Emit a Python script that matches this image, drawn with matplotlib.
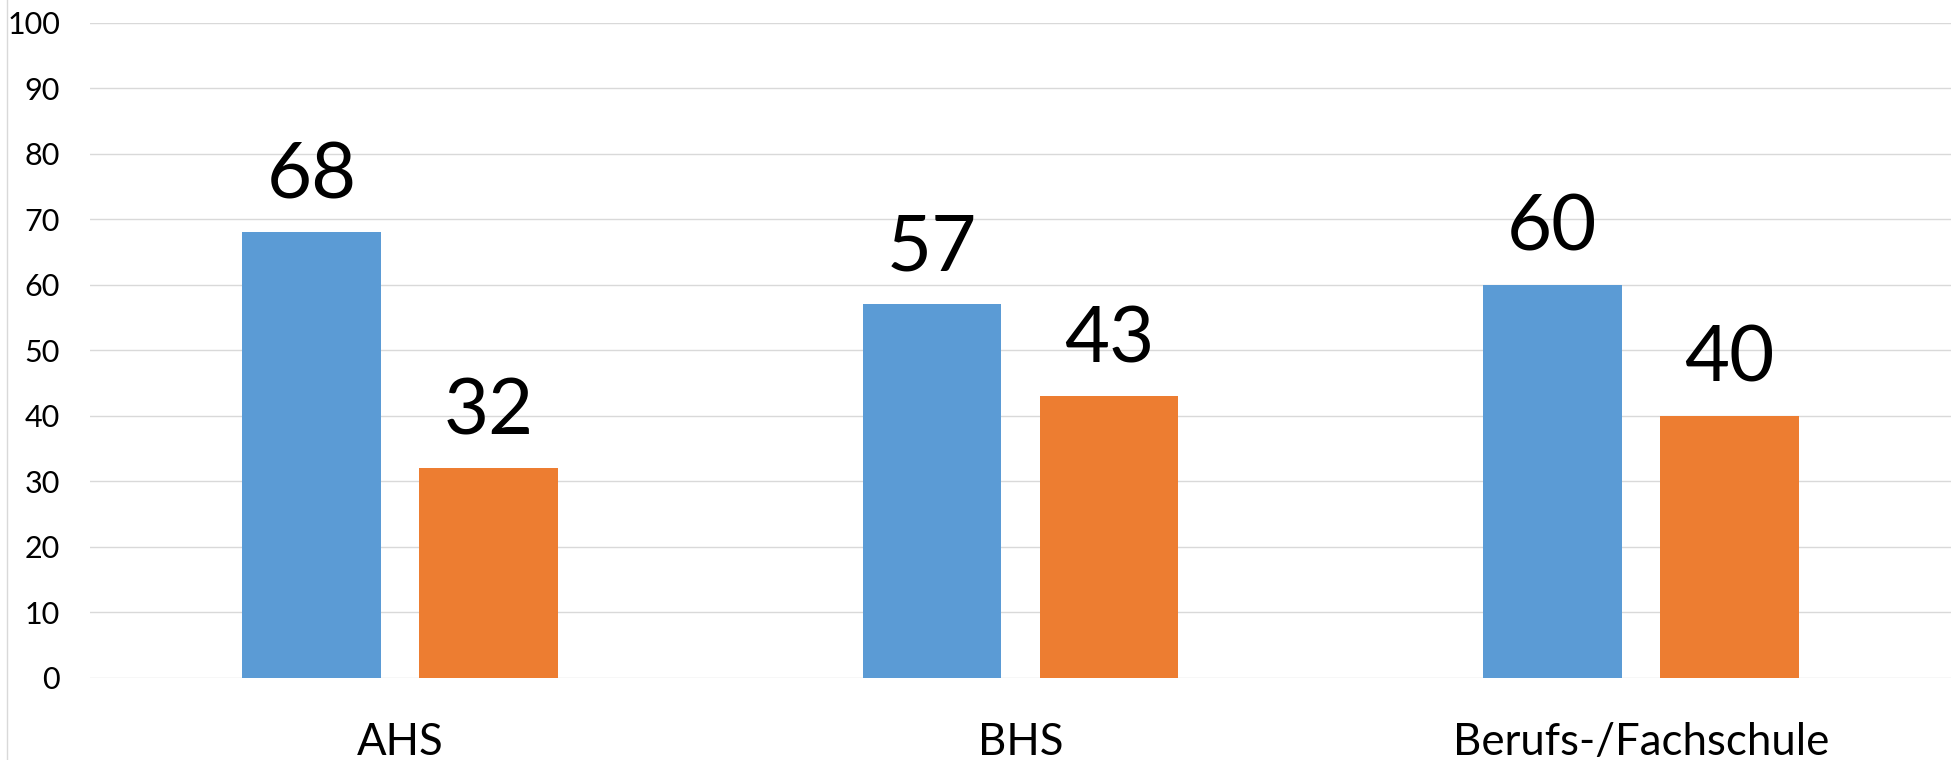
import matplotlib
matplotlib.use("Agg")
import matplotlib.pyplot as plt
from matplotlib.lines import Line2D
import numpy as np

categories = ["AHS", "BHS", "Berufs-/Fachschule"]
series_blue = [68, 57, 60]
series_orange = [32, 43, 40]
yticks = [0, 10, 20, 30, 40, 50, 60, 70, 80, 90, 100]

plt.rcParams['font.family'] = ['Lato', 'DejaVu Sans']

W, H = 1958, 760
fig = plt.figure(figsize=(W / 100, H / 100), dpi=100)
ax = fig.add_axes([90 / W, 1 - 677.7 / H, (1951 - 90) / W, (677.7 - 22.7) / H])

x = np.arange(len(categories))
bw = 0.224
off = 0.1427
b1 = ax.bar(x - off, series_blue, width=bw, color="#5B9BD5", zorder=3)
b2 = ax.bar(x + off, series_orange, width=bw, color="#ED7D31", zorder=3)

for bars, vals in ((b1, series_blue), (b2, series_orange)):
    for rect, v in zip(bars, vals):
        ax.annotate(str(v), (rect.get_x() + rect.get_width() / 2, rect.get_height()),
                    xytext=(0, 24.5), textcoords="offset points",
                    ha="center", va="baseline", fontsize=56, color="black")

ax.set_xlim(-0.5, 2.5)
ax.set_ylim(0, 100)
ax.set_yticks(yticks)
ax.set_yticklabels([str(t) for t in yticks], fontsize=22)
ax.set_xticks(x)
ax.set_xticklabels(categories, fontsize=31.5)
ax.tick_params(axis="y", length=0, pad=21.6)
ax.tick_params(axis="x", length=0, pad=32)
ax.grid(axis="y", color="#D9D9D9", linewidth=1.0, zorder=0)
for s in ax.spines.values():
    s.set_visible(False)

fig.add_artist(Line2D([7.5 / W, 7.5 / W], [0, 1], transform=fig.transFigure,
                      color="#D9D9D9", linewidth=1.0))

fig.savefig("out.png", dpi=100)
